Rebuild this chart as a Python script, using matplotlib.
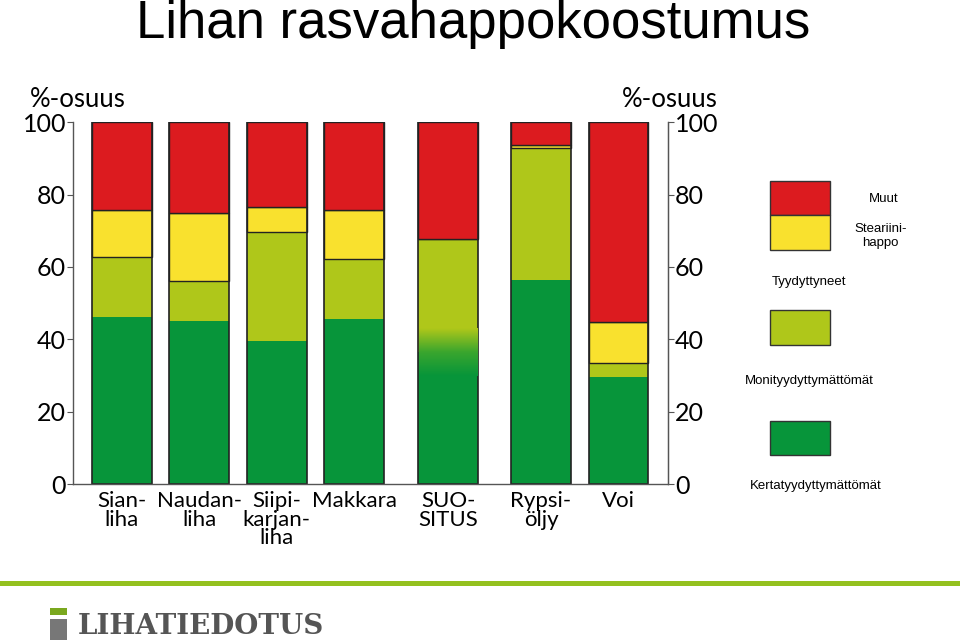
import numpy as np
import matplotlib
matplotlib.use('Agg')
import matplotlib.pyplot as plt
from matplotlib.colors import LinearSegmentedColormap
from matplotlib.patches import Rectangle

# rasvahappokoostumus, %-osuus
tuotteet = ['Sian-\nliha', 'Naudan-\nliha', 'Siipi-\nkarjan-\nliha', 'Makkara',
            'SUO-\nSITUS', 'Rypsi-\nöljy', 'Voi']
kerta = [46.2, 45.1, 39.6, 45.7, 36.5, 56.5, 29.5]
moni = [16.6, 10.9, 30.1, 16.4, 31.1, 36.3, 3.9]
steariini = [13.0, 19.0, 6.8, 13.6, 0.0, 0.8, 11.3]
muut = [24.2, 25.0, 23.5, 24.3, 32.4, 6.4, 55.3]

paikat = [0, 1, 2, 3, 4.21, 5.41, 6.41]
lev = 0.77

c_kerta = '#07953a'
c_moni = '#afc71a'
c_stea = '#f9e12e'
c_muut = '#dc1b1f'

fig = plt.figure(figsize=(9.6, 6.43), dpi=100)
ax = fig.add_axes([0.076, 0.247, 0.620, 0.563])

kerta = np.array(kerta)
moni = np.array(moni)
steariini = np.array(steariini)
muut = np.array(muut)

ax.bar(paikat, kerta, lev, color=c_kerta, linewidth=0)
ax.bar(paikat, moni, lev, bottom=kerta, color=c_moni, linewidth=0)
ax.bar(paikat, steariini, lev, bottom=kerta + moni, color=c_stea,
       edgecolor='#222222', linewidth=1)
ax.bar(paikat, muut, lev, bottom=kerta + moni + steariini, color=c_muut,
       edgecolor='#222222', linewidth=1)
ax.bar(paikat, kerta + moni + steariini + muut, lev, fill=False,
       edgecolor='#222222', linewidth=1.2)

# suosituksen liukuva sävy
liuku = LinearSegmentedColormap.from_list('liuku', [c_kerta, '#3aa62e', c_moni])
grad = np.linspace(0, 1, 100).reshape(-1, 1)
i = 4
ax.imshow(grad, cmap=liuku, aspect='auto', origin='lower', zorder=1.5,
          extent=(paikat[i] - lev / 2 + 0.01, paikat[i] + lev / 2 - 0.01, 30, 43))

ax.set_xlim(-0.63, 7.05)
ax.set_ylim(0, 100)

ax.spines['top'].set_visible(False)
for s in ['left', 'bottom', 'right']:
    ax.spines[s].set_color('#555555')
    ax.spines[s].set_linewidth(1)

fnt = 'Lato'
ax.set_yticks([0, 20, 40, 60, 80, 100])
ax.tick_params(axis='y', labelsize=18, length=4, color='#555555', pad=1)
for t in ax.get_yticklabels():
    t.set_fontname(fnt)
ax.set_xticks(paikat)
ax.set_xticklabels(tuotteet, fontsize=16, fontname=fnt, linespacing=0.9)
ax.tick_params(axis='x', length=0, pad=5)

ax2 = ax.twinx()
ax2.set_ylim(0, 100)
ax2.set_yticks([0, 20, 40, 60, 80, 100])
ax2.tick_params(axis='y', labelsize=18, length=4, color='#555555', pad=1)
for t in ax2.get_yticklabels():
    t.set_fontname(fnt)
for s in ['top', 'left', 'bottom']:
    ax2.spines[s].set_visible(False)
ax2.spines['right'].set_color('#555555')

fig.text(0.081, 0.845, '%-osuus', fontsize=18.5, fontname=fnt, ha='center', va='center')
fig.text(0.698, 0.845, '%-osuus', fontsize=18.5, fontname=fnt, ha='center', va='center')

# otsikko
fig.text(0.493, 0.941, 'Lihan rasvahappokoostumus', fontsize=38,
         fontname='Liberation Sans', ha='center', va='baseline')

# selite
lf = 'Liberation Sans'
for (y0, h, col) in [(0.665, 0.054, c_muut), (0.611, 0.054, c_stea),
                     (0.464, 0.054, c_moni), (0.292, 0.054, c_kerta)]:
    fig.patches.append(Rectangle((0.802, y0), 0.063, h, transform=fig.transFigure,
                                 facecolor=col, edgecolor='#333333', linewidth=1))
fig.text(0.921, 0.690, 'Muut', fontsize=9.5, fontname=lf, ha='center', va='center')
fig.text(0.917, 0.633, 'Steariini-\nhappo', fontsize=9.5, fontname=lf, ha='center',
         va='center', linespacing=1.2)
fig.text(0.843, 0.561, 'Tyydyttyneet', fontsize=9.5, fontname=lf, ha='center', va='center')
fig.text(0.843, 0.407, 'Monityydyttymättömät', fontsize=9.5, fontname=lf, ha='center', va='center')
fig.text(0.850, 0.244, 'Kertatyydyttymättömät', fontsize=9.5, fontname=lf, ha='center', va='center')

# alapalkki ja logo
fig.patches.append(Rectangle((0, 0.088), 1, 0.008, transform=fig.transFigure,
                             facecolor='#94c11f', edgecolor='none'))
fig.patches.append(Rectangle((0.052, 0.043), 0.018, 0.012, transform=fig.transFigure,
                             facecolor='#7aa81e', edgecolor='none'))
fig.patches.append(Rectangle((0.052, 0.004), 0.018, 0.033, transform=fig.transFigure,
                             facecolor='#777777', edgecolor='none'))
fig.text(0.081, 0.014, 'LIHATIEDOTUS', fontsize=20, fontname='DejaVu Serif',
         fontweight='bold', color='#555555', ha='left', va='baseline')

fig.savefig('out.png', dpi=100)
